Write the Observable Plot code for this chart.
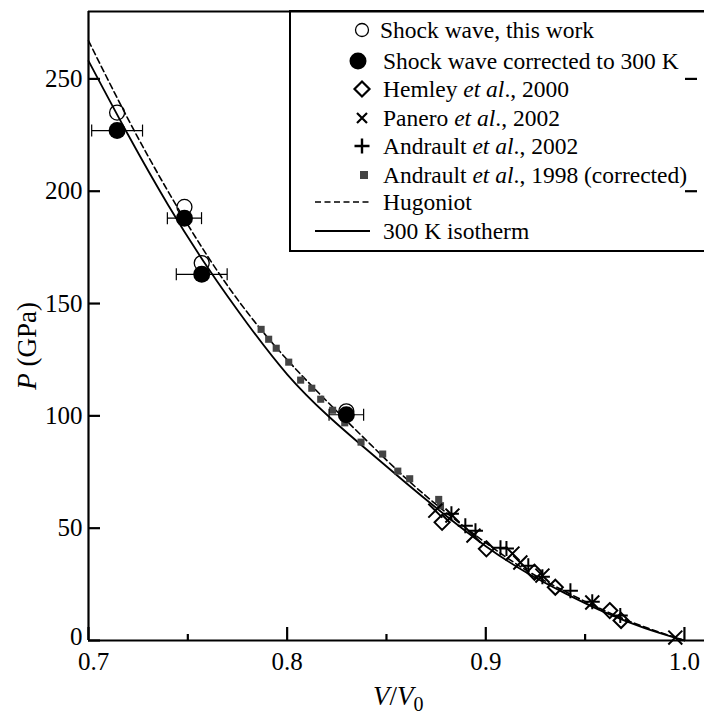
<!DOCTYPE html>
<html><head><meta charset="utf-8">
<script src="https://cdn.jsdelivr.net/npm/d3@7"></script>
<script src="https://cdn.jsdelivr.net/npm/@observablehq/plot@0.6"></script>
<style>html,body{margin:0;padding:0;background:#fff;} #chart{position:relative;width:704px;height:717px;overflow:hidden} #chart text{font-family:"Liberation Serif","Times New Roman","DejaVu Serif",serif;}</style>
</head><body><div id="chart"></div>
<script>
// ---- data ----
const curveV     = [0.70, 0.72, 0.74, 0.76, 0.78, 0.80, 0.82, 0.84, 0.86, 0.88, 0.90, 0.92, 0.94, 0.96, 0.98, 1.00];
const isothermP  = [258, 225, 194, 166, 141, 118.5, 100.5, 85, 70, 55.5, 42, 30.5, 21, 12.5, 5.5, 0];
const hugoniotP  = [267, 232, 200, 171, 146, 125, 106.5, 89, 72, 57, 43.5, 31.5, 21.8, 13.2, 6, 0];

const shockV     = [0.7144, 0.7483, 0.7570, 0.8298];
const shockP     = [235, 193, 168, 102];
const shock300P  = [227, 188, 163, 100.5];
const shockErr   = [0.0128, 0.0086, 0.0128, 0.0087];

const hemleyV    = [0.8780, 0.9003, 0.9245, 0.9350, 0.9624, 0.9681];
const hemleyP    = [52.6, 40.8, 30.4, 23.7, 13.3, 8.9];

const paneroV    = [0.8746, 0.8832, 0.8938, 0.9134, 0.9174, 0.9285, 0.9536, 0.9954];
const paneroP    = [57.8, 55.6, 46.7, 38.7, 34.7, 28.9, 16.9, 1.3];

const andrault02V = [0.8827, 0.8897, 0.8948, 0.9074, 0.9104, 0.9214, 0.9285, 0.9426, 0.9536, 0.9677];
const andrault02P = [56.4, 51.1, 48.9, 41.3, 40.9, 33.3, 28.4, 22.2, 17.3, 11.1];

const andrault98V = [0.7869, 0.7907, 0.7945, 0.8008, 0.8068, 0.8124, 0.8169, 0.8229, 0.8290, 0.8372, 0.8481, 0.8557, 0.8617, 0.8763, 0.8772];
const andrault98P = [138.5, 134.1, 130.1, 123.9, 115.9, 112.3, 107.4, 102.5, 96.9, 88.3, 83.0, 75.4, 72.0, 62.8, 60.0];

const xMajorTicks = [0.7, 0.8, 0.9, 1.0];
const xMinorTicks = [0.75, 0.85, 0.95];
const yTicks      = [0, 50, 100, 150, 200, 250];
const yRightTicks = [200, 250];
const xDomain = [0.7, 1.0101];
const yDomain = [0, 280];

const legendLabels = [
  [["Shock wave, this work", false]],
  [["Shock wave corrected to 300 K", false]],
  [["Hemley ", false], ["et al", true], ["., 2000", false]],
  [["Panero ", false], ["et al", true], ["., 2002", false]],
  [["Andrault ", false], ["et al", true], ["., 2002", false]],
  [["Andrault ", false], ["et al", true], ["., 1998 (corrected)", false]],
  [["Hugoniot", false]],
  [["300 K isotherm", false]]
];
const legendKinds = ["open", "filled", "diamond", "times", "plus", "square", "dashed", "solid"];

// ---- build tables ----
const zip = (xs, ys) => xs.map((v, i) => ({v, P: ys[i]}));
const iso = zip(curveV, isothermP);
const hug = zip(curveV, hugoniotP);
const shock = shockV.map((v, i) => ({v, P: shockP[i], P300: shock300P[i], err: shockErr[i]}));
const caps = shock.flatMap(d => [{v: d.v - d.err, P: d.P300}, {v: d.v + d.err, P: d.P300}]);

const vbar = {draw(ctx, size) { const h = Math.sqrt(size / Math.PI); ctx.moveTo(0, -h); ctx.lineTo(0, h); }};

const W = 704, H = 717, ML = 88, MR = 0, MT = 11, MB = 77;
const plotW = W - ML - MR, plotH = H - MT - MB;
const FONT = "'Liberation Serif', 'Times New Roman', 'DejaVu Serif', serif";

const chart = Plot.plot({
  width: W, height: H,
  marginLeft: ML, marginRight: MR, marginTop: MT, marginBottom: MB,
  style: {fontFamily: FONT, fontSize: "24px", color: "black", background: "white"},
  x: {domain: xDomain},
  y: {domain: yDomain},
  marks: [
    Plot.axisX({ticks: xMajorTicks.slice(1), tickSize: 0, tickPadding: 12, tickFormat: d3.format(".1f"), fontSize: 25, label: null}),
    Plot.axisX({ticks: xMajorTicks.slice(0, 1), tickSize: 0, tickPadding: 12, dx: 5, tickFormat: d3.format(".1f"), fontSize: 25, label: null}),
    Plot.axisY({ticks: yTicks.slice(1), tickSize: 0, tickPadding: 6, fontSize: 25, label: null}),
    Plot.axisY({ticks: yTicks.slice(0, 1), tickSize: 0, tickPadding: 6, dy: -4, fontSize: 25, label: null}),
    Plot.tickY(yTicks, {y: d => d, insetRight: plotW - 12, strokeWidth: 2.2}),
    Plot.tickY(yRightTicks, {y: d => d, insetLeft: plotW - 19, insetRight: 7, strokeWidth: 2.2}),
    Plot.tickX(xMajorTicks, {x: d => d, insetTop: plotH - 13, strokeWidth: 2.2}),
    Plot.tickX(xMinorTicks, {x: d => d, insetTop: plotH - 6, strokeWidth: 2.2}),
    Plot.line(hug, {x: "v", y: "P", curve: "natural", stroke: "black", strokeWidth: 1.6, strokeDasharray: "6,3.5"}),
    Plot.line(iso, {x: "v", y: "P", curve: "natural", stroke: "black", strokeWidth: 1.8}),
    Plot.dot(zip(andrault98V, andrault98P), {x: "v", y: "P", symbol: "square", r: 4, fill: "#444", stroke: "none"}),
    Plot.dot(zip(hemleyV, hemleyP), {x: "v", y: "P", symbol: "diamond2", r: 6.8, stroke: "black", strokeWidth: 2, fill: "none"}),
    Plot.dot(zip(paneroV, paneroP), {x: "v", y: "P", symbol: "times", r: 6.4, stroke: "black", strokeWidth: 2}),
    Plot.dot(zip(andrault02V, andrault02P), {x: "v", y: "P", symbol: "plus", r: 4.9, stroke: "black", strokeWidth: 2}),
    Plot.link(shock, {x1: d => d.v - d.err, x2: d => d.v + d.err, y1: "P300", y2: "P300", stroke: "black", strokeWidth: 1.2}),
    Plot.dot(caps, {x: "v", y: "P", symbol: vbar, r: 6, stroke: "black", strokeWidth: 1.2}),
    Plot.dot(shock, {x: "v", y: "P", r: 7.5, stroke: "black", strokeWidth: 1.3, fill: "none"}),
    Plot.dot(shock, {x: "v", y: "P300", r: 8.5, fill: "black", stroke: "none"}),
    Plot.ruleX([xDomain[0]], {strokeWidth: 2.2}),
    Plot.ruleY([yDomain[0]], {strokeWidth: 2.2}),
    Plot.ruleY([yDomain[1]], {strokeWidth: 2.2})
  ]
});
document.getElementById("chart").appendChild(chart);

// ---- legend and axis titles ----
const svg = d3.select(chart);
const lg = svg.append("g");
lg.append("rect").attr("x", 290).attr("y", 11).attr("width", 430).attr("height", 240)
  .attr("fill", "none").attr("stroke", "black").attr("stroke-width", 2);
const rowY = [30, 61, 89, 118, 146, 175, 202, 231];
const textX = [380, 383, 383, 383, 383, 383, 383, 383];
legendKinds.forEach((k, i) => {
  const y = rowY[i];
  const g = lg.append("g");
  if (k === "open") g.append("circle").attr("cx", 362).attr("cy", y).attr("r", 6.5).attr("fill", "none").attr("stroke", "black").attr("stroke-width", 1.3);
  if (k === "filled") g.append("circle").attr("cx", 358).attr("cy", y).attr("r", 8.5).attr("fill", "black");
  if (k === "diamond") g.append("path").attr("d", `M362,${y-7.5}L369.5,${y}L362,${y+7.5}L354.5,${y}Z`).attr("fill", "none").attr("stroke", "black").attr("stroke-width", 2.2);
  if (k === "times") g.append("path").attr("d", `M357,${y-5}L367,${y+5}M357,${y+5}L367,${y-5}`).attr("stroke", "black").attr("stroke-width", 2.2);
  if (k === "plus") g.append("path").attr("d", `M354.5,${y}H369.5M362,${y-7.5}V${y+7.5}`).attr("stroke", "black").attr("stroke-width", 2.4);
  if (k === "square") g.append("rect").attr("x", 360).attr("y", y-4).attr("width", 8).attr("height", 8).attr("fill", "#444");
  if (k === "dashed") g.append("line").attr("x1", 315).attr("x2", 370).attr("y1", y).attr("y2", y).attr("stroke", "black").attr("stroke-width", 1.6).attr("stroke-dasharray", "6,3.5");
  if (k === "solid") g.append("line").attr("x1", 315).attr("x2", 370).attr("y1", y).attr("y2", y).attr("stroke", "black").attr("stroke-width", 1.8);
  const t = g.append("text").attr("x", textX[i]).attr("y", y + 8).attr("font-family", FONT).attr("font-size", 23.5).attr("text-anchor", "start").attr("fill", "black");
  legendLabels[i].forEach(([s, it]) => t.append("tspan").attr("font-style", it ? "italic" : "normal").text(s));
});

const xt = svg.append("text").attr("x", 373).attr("y", 705).attr("font-family", FONT).attr("font-size", 27).attr("text-anchor", "start").attr("fill", "black");
xt.append("tspan").attr("font-style", "italic").text("V");
xt.append("tspan").text("/");
xt.append("tspan").attr("font-style", "italic").text("V");
xt.append("tspan").attr("font-size", 20).attr("dy", 6).text("0");

const yt = svg.append("text").attr("transform", "translate(36,346) rotate(-90)").attr("font-family", FONT).attr("font-size", 27).attr("text-anchor", "middle").attr("fill", "black");
yt.append("tspan").attr("font-style", "italic").text("P");
yt.append("tspan").text(" (GPa)");
</script>
</body></html>
